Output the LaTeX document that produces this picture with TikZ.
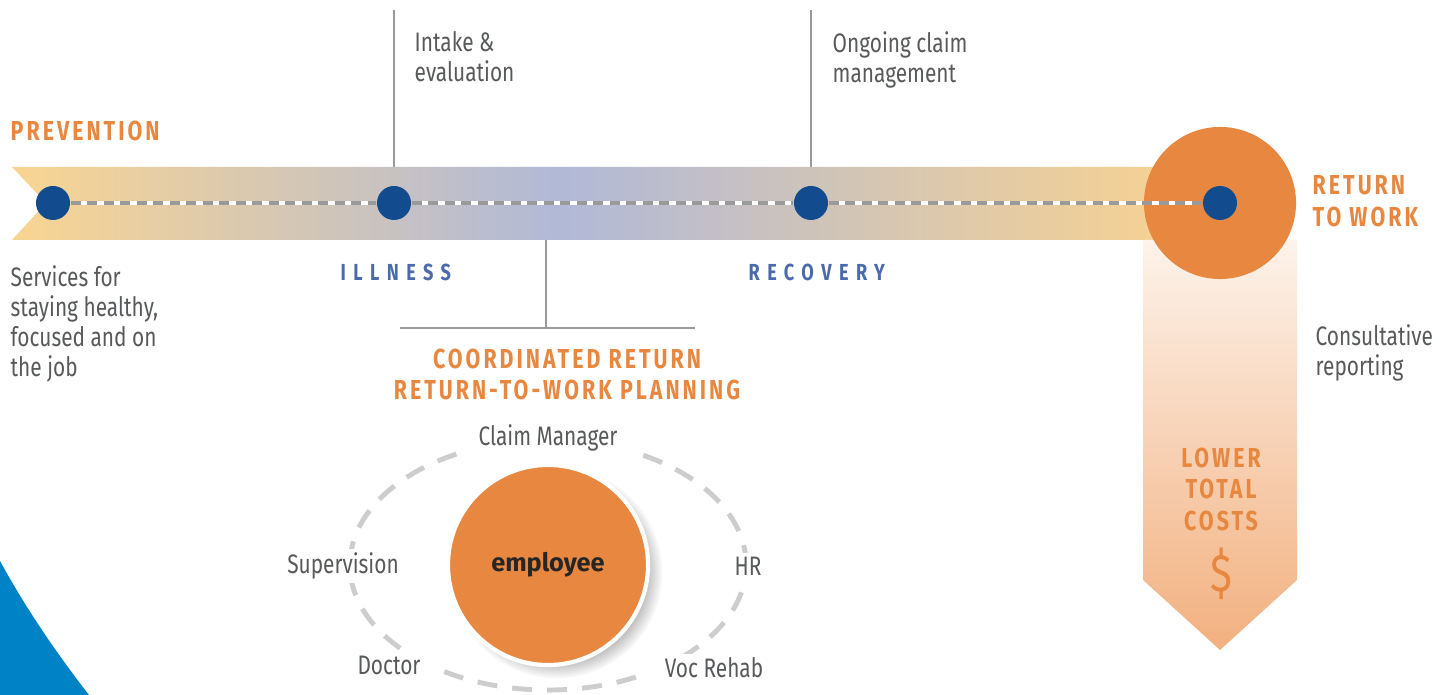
\documentclass[tikz,border=0pt]{standalone}
\usepackage{fontspec}
\setmainfont[FakeStretch=0.78]{Fira Sans}
\newfontfamily\headfont[FakeStretch=0.78,LetterSpace=11]{Fira Sans}
\newfontfamily\stagefont[FakeStretch=0.78,LetterSpace=32]{Fira Sans}
\newfontfamily\empfont{Fira Sans}
\usetikzlibrary{shadows}

\definecolor{rtworange}{HTML}{E8873F}
\definecolor{stopblue}{HTML}{124C8E}
\definecolor{textgrey}{HTML}{58595B}
\definecolor{stageblue}{HTML}{4A6AAB}
\definecolor{bandyellow}{HTML}{F9D592}
\definecolor{bandblue}{HTML}{B1B9D7}
\definecolor{bandend}{HTML}{F4D195}
\definecolor{linegrey}{HTML}{9A9A9A}
\definecolor{ringgrey}{HTML}{CDCDCD}
\definecolor{cornerblue}{HTML}{0082C6}
\definecolor{costlight}{HTML}{FDF3EB}
\definecolor{costdark}{HTML}{F2B07F}

\pgfdeclarehorizontalshading{bandshading}{100bp}{color(0bp)=(bandyellow);
  color(25bp)=(bandyellow); color(47.6bp)=(bandblue);
  color(72bp)=(bandend); color(100bp)=(bandend)}

\tikzset{
  stopdot/.style={circle, fill=stopblue, minimum size=0.34cm, inner sep=0pt},
  bodytext/.style={text=textgrey, align=left, inner sep=0pt,
    font=\fontsize{7.6}{8.55}\selectfont},
  headtext/.style={text=rtworange, inner sep=0pt,
    font=\headfont\bfseries\fontsize{7.8}{9}\selectfont},
  stagetext/.style={text=stageblue, inner sep=0pt,
    font=\stagefont\bfseries\fontsize{6.6}{7}\selectfont},
  ringlabel/.style={text=textgrey, fill=white, inner ysep=1pt,
    inner xsep=0.16cm, font=\fontsize{7.6}{8.55}\selectfont},
  stem/.style={linegrey, line width=0.6pt}
}

\begin{document}
\begin{tikzpicture}[x=0.01cm, y=-0.01cm]
  \useasboundingbox (0,0) rectangle (1445,695);

  % corner
  \fill[cornerblue] (0,561) .. controls (28,612) and (58,655) .. (89,695)
    -- (0,695) -- cycle;

  % stems above the band
  \coordinate (intaketop) at (394,10);
  \coordinate (ongoingtop) at (811,10);
  \coordinate (intakefoot) at (394,203);
  \coordinate (ongoingfoot) at (811,203);
  \draw[stem] (intaketop) -- (intakefoot);
  \draw[stem] (ongoingtop) -- (ongoingfoot);

  % the band
  \shade[shading=bandshading]
    (12,167) -- (1222,167) -- (1222,240) -- (12,240) -- (46,203) -- cycle;

  % lower total costs
  \shade[top color=costlight, bottom color=costdark]
    (1143,240) -- (1297,240) -- (1297,580) -- (1220,650) -- (1143,580) -- cycle;

  \node[circle, fill=rtworange, minimum size=1.52cm, inner sep=0pt]
    (rtwcircle) at (1220,203) {};

  \node[stopdot] (prevdot) at (53,203) {};
  \node[stopdot] (illdot) at (394,203) {};
  \node[stopdot] (recdot) at (811,203) {};
  \node[stopdot] (rtwdot) at (1220,203) {};

  \foreach \a/\b in {prevdot/illdot, illdot/recdot, recdot/rtwdot}
  {
    \draw[white, line width=0.9pt] (\a) -- (\b);
    \draw[linegrey, line width=0.9pt, dash pattern=on 0.1cm off 0.065cm]
      (\a) -- (\b);
  }

  % planning stem
  \coordinate (planstem) at (546,240);
  \coordinate (planjoint) at (546,328);
  \coordinate (planleft) at (400,328);
  \coordinate (planright) at (695,328);
  \draw[stem] (planstem) -- (planjoint);
  \draw[stem] (planleft) -- (planright);

  % texts
  \node[headtext, anchor=north west] (prevlabel) at (10,120) {PREVENTION};
  \node[headtext, anchor=north west, align=left] (rtwlabel) at (1312,175)
    {RETURN\\TO WORK};
  \node[bodytext, anchor=north west] (intakelabel) at (414,31)
    {Intake \&\\evaluation};
  \node[bodytext, anchor=north west] (ongoinglabel) at (832,31)
    {Ongoing claim\\management};
  \node[bodytext, anchor=north west] (prevtext) at (10,265)
    {Services for\\staying healthy,\\focused and on\\the job};
  \node[bodytext, anchor=north west] (reporttext) at (1315,324)
    {Consultative\\reporting};
  \node[stagetext, anchor=west] (illlabel) at (340,272) {ILLNESS};
  \node[stagetext, anchor=west] (reclabel) at (748,272) {RECOVERY};
  \node[headtext, anchor=north, align=center] (planlabel) at (567,348)
    {COORDINATED RETURN\\RETURN-TO-WORK PLANNING};
  \node[headtext, anchor=north, align=center] (costlabel) at (1221,447)
    {LOWER\\TOTAL\\COSTS};
  \node[text=rtworange, font=\fontsize{15}{15}\selectfont] (dollar)
    at (1221,574) {\$};

  % planning ring
  \draw[ringgrey, line width=1.4pt, dash pattern=on 0.2cm off 0.15cm]
    (548,565) ellipse [x radius=1.98cm, y radius=1.25cm];
  \node[ringlabel] (claimmgr) at (548,438) {Claim Manager};
  \node[ringlabel] (supervision) at (343,566) {Supervision};
  \node[ringlabel] (hr) at (748,566) {HR};
  \node[ringlabel] (doctor) at (389,665) {Doctor};
  \node[ringlabel] (vocrehab) at (714,668) {Voc Rehab};

  \node[circle, fill=rtworange, draw=white, line width=1.2pt,
    minimum size=2cm, inner sep=0pt,
    circular drop shadow={shadow xshift=0.08cm, shadow yshift=-0.07cm,
      shadow scale=1.06, opacity=0.5},
    font=\empfont\bfseries\fontsize{7.2}{8}\selectfont, text=black!85]
    (employee) at (548,565) {employee};

\end{tikzpicture}
\end{document}
